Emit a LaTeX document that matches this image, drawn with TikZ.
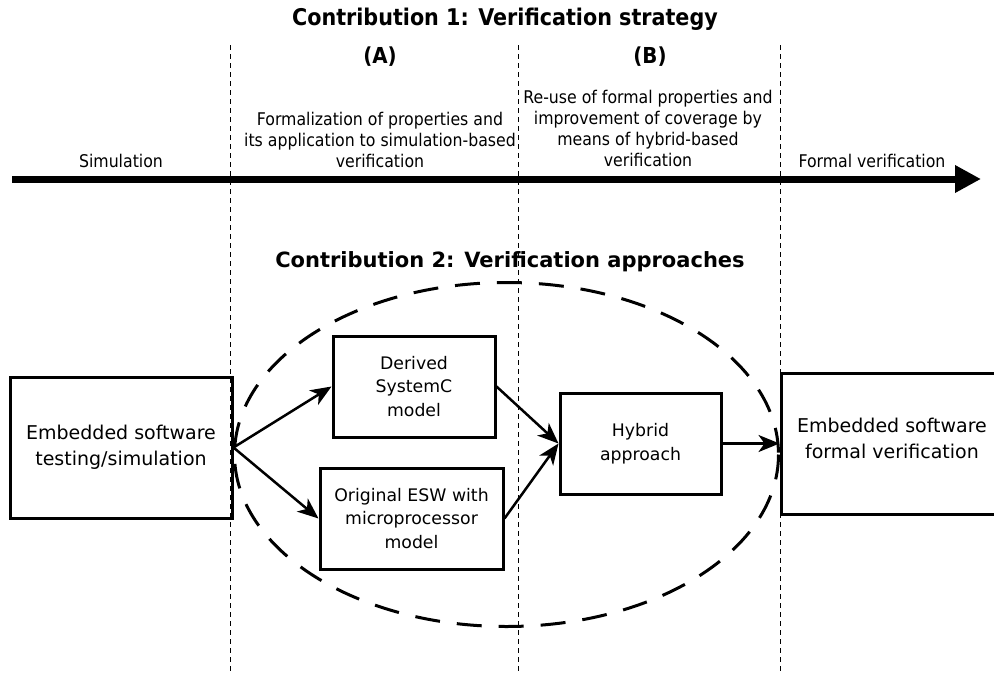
\documentclass[tikz,border=0pt]{standalone}
\usepackage{fontspec}
\setmainfont{DejaVu Sans}
\newfontfamily\condfont{DejaVu Sans Condensed}
\usetikzlibrary{arrows.meta}

\tikzset{
  phase/.style={font=\condfont\fontsize{17.5}{21}\selectfont, align=center, inner sep=0pt},
  phasehead/.style={font=\condfont\bfseries\fontsize{22}{26}\selectfont, inner sep=0pt},
  stagebox/.style={draw, line width=3pt, align=center, inner sep=0pt},
  bigbox/.style={stagebox, minimum width=222pt, minimum height=141pt,
                 font=\fontsize{19}{26}\selectfont},
  smallbox/.style={stagebox, minimum height=101pt,
                   font=\fontsize{17.3}{23.5}\selectfont},
  divider/.style={line width=1pt, dash pattern=on 5pt off 4pt},
  flow/.style={line width=2.5pt, -{Stealth[length=21pt,width=17pt,inset=6pt]}},
}

\begin{document}
\begin{tikzpicture}[x=1pt, y=-1pt]
  \useasboundingbox (0,0) rectangle (994,675);

  % headings
  \node[phasehead, font=\condfont\bfseries\fontsize{23}{26}\selectfont] (title1) at (505,19) {Contribution 1: Verification strategy};
  \node[phasehead] (phA) at (380,57) {(A)};
  \node[phasehead] (phB) at (650,57) {(B)};

  % phase dividers
  \foreach \n/\x in {d1/230, d2/518, d3/780} {
    \coordinate (\n top) at (\x,45);
    \coordinate (\n bot) at (\x,675);
    \draw[divider] (\n top) -- (\n bot);
  }

  % phase descriptions
  \node[phase] (sim) at (121,161) {Simulation};
  \node[phase] (descA) at (380,140) {Formalization of properties and\\its application to simulation-based\\verification};
  \node[phase] (descB) at (648,128.5) {Re-use of formal properties and\\improvement of coverage by\\means of hybrid-based\\verification};
  \node[phase] (fv) at (872,161) {Formal verification};

  % timeline arrow
  \coordinate (tstart) at (12,179);
  \coordinate (tend) at (981,179);
  \draw[line width=7pt, -{Triangle[length=26pt,width=26pt]}] (tstart) -- (tend);

  % second contribution
  \node[font=\bfseries\fontsize{21}{24}\selectfont, inner sep=0pt] (title2) at (510,262)
    {Contribution 2: Verification approaches};
  \draw[line width=3pt, dash pattern=on 25pt off 17pt] (506.5,454.5) ellipse [x radius=272, y radius=172];

  % boxes
  \node[bigbox] (esim) at (121,447.5) {Embedded software\\testing/simulation};
  \node[smallbox, minimum width=162pt] (derived) at (414,386.5) {Derived\\SystemC\\model};
  \node[smallbox, minimum width=183pt] (orig) at (411.5,518.5) {Original ESW with\\microprocessor\\model};
  \node[smallbox, minimum width=161pt] (hybrid) at (640.5,443.5) {Hybrid\\approach};
  \node[bigbox] (formal) at (892,443.5) {Embedded software\\formal verification\\[-16pt]};

  % connectors
  \draw[flow] (esim.east) -- (derived.west);
  \draw[flow] (esim.east) -- (orig.west);
  \draw[flow] (derived.east) -- (hybrid.west);
  \draw[flow] (orig.east) -- (hybrid.west);
  \draw[flow] (hybrid.east) -- (formal.west);
\end{tikzpicture}
\end{document}
